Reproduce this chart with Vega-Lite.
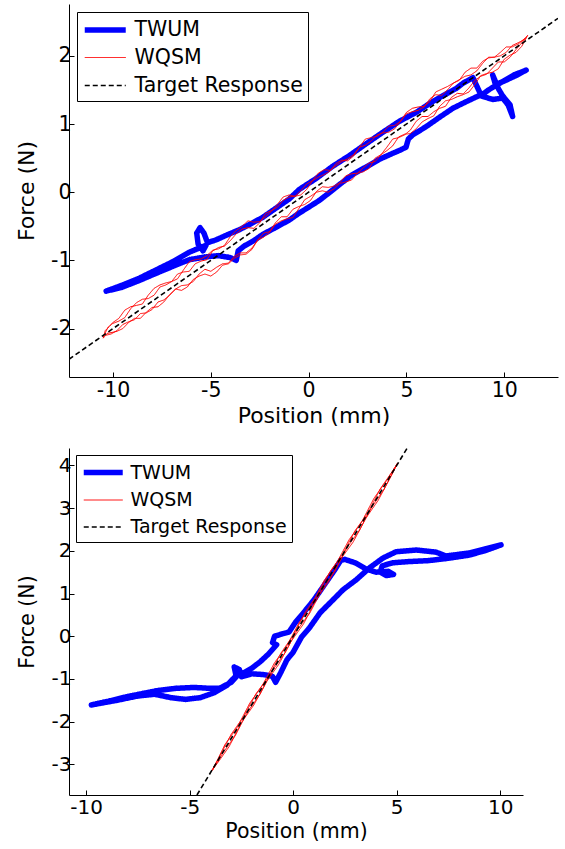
{
"$schema": "https://vega.github.io/schema/vega-lite/v6.json",
"padding": {"left": 15, "top": 4, "right": 4, "bottom": 4},
"background": "white",
"config": {
  "view": {"stroke": null},
  "font": "DejaVu Sans",
  "axis": {"domainColor": "#000", "tickColor": "#000", "tickSize": -5, "grid": false, "labelFont": "DejaVu Sans", "titleFont": "DejaVu Sans", "titleFontWeight": "normal", "labelColor": "#000", "titleColor": "#000", "labelExpr": "'' + datum.value", "labelFlush": false, "labelOverlap": false}
},
"datasets": {
  "top": [
    {"s":"TWUM","x":-10.35,"y":-1.45},{"s":"TWUM","x":-9.6,"y":-1.4},{"s":"TWUM","x":-8.7,"y":-1.3},{"s":"TWUM","x":-7.8,"y":-1.19},{"s":"TWUM","x":-6.8,"y":-1.07},{"s":"TWUM","x":-6.1,"y":-0.99},{"s":"TWUM","x":-5.3,"y":-0.95},{"s":"TWUM","x":-4.6,"y":-0.93},{"s":"TWUM","x":-4.0,"y":-0.96},{"s":"TWUM","x":-3.7,"y":-1.0},{"s":"TWUM","x":-3.6,"y":-0.86},{"s":"TWUM","x":-3.3,"y":-0.79},{"s":"TWUM","x":-2.8,"y":-0.71},{"s":"TWUM","x":-2.35,"y":-0.62},{"s":"TWUM","x":-1.7,"y":-0.52},{"s":"TWUM","x":-1.0,"y":-0.41},{"s":"TWUM","x":-0.5,"y":-0.31},{"s":"TWUM","x":0.0,"y":-0.22},{"s":"TWUM","x":0.55,"y":-0.12},{"s":"TWUM","x":1.0,"y":-0.02},{"s":"TWUM","x":1.57,"y":0.11},{"s":"TWUM","x":2.2,"y":0.25},{"s":"TWUM","x":2.94,"y":0.37},{"s":"TWUM","x":3.6,"y":0.48},{"s":"TWUM","x":4.3,"y":0.57},{"s":"TWUM","x":4.7,"y":0.62},{"s":"TWUM","x":4.98,"y":0.66},{"s":"TWUM","x":5.1,"y":0.78},{"s":"TWUM","x":5.32,"y":0.84},{"s":"TWUM","x":6.0,"y":0.96},{"s":"TWUM","x":6.7,"y":1.1},{"s":"TWUM","x":7.37,"y":1.23},{"s":"TWUM","x":8.0,"y":1.32},{"s":"TWUM","x":8.74,"y":1.42},{"s":"TWUM","x":9.41,"y":1.36},{"s":"TWUM","x":9.92,"y":1.38},{"s":"TWUM","x":10.2,"y":1.28},{"s":"TWUM","x":10.43,"y":1.11},{"s":"TWUM","x":10.3,"y":1.28},{"s":"TWUM","x":9.9,"y":1.42},{"s":"TWUM","x":9.7,"y":1.52},{"s":"TWUM","x":9.41,"y":1.72},{"s":"TWUM","x":9.55,"y":1.58},{"s":"TWUM","x":10.0,"y":1.63},{"s":"TWUM","x":10.6,"y":1.71},{"s":"TWUM","x":11.12,"y":1.79},{"s":"TWUM","x":10.5,"y":1.72},{"s":"TWUM","x":9.9,"y":1.62},{"s":"TWUM","x":9.2,"y":1.5},{"s":"TWUM","x":8.82,"y":1.42},{"s":"TWUM","x":8.4,"y":1.68},{"s":"TWUM","x":7.9,"y":1.6},{"s":"TWUM","x":7.54,"y":1.52},{"s":"TWUM","x":6.9,"y":1.42},{"s":"TWUM","x":6.34,"y":1.33},{"s":"TWUM","x":5.5,"y":1.17},{"s":"TWUM","x":4.64,"y":1.04},{"s":"TWUM","x":3.8,"y":0.88},{"s":"TWUM","x":2.94,"y":0.71},{"s":"TWUM","x":2.1,"y":0.54},{"s":"TWUM","x":1.23,"y":0.38},{"s":"TWUM","x":0.38,"y":0.2},{"s":"TWUM","x":-0.48,"y":0.04},{"s":"TWUM","x":-0.99,"y":-0.1},{"s":"TWUM","x":-1.7,"y":-0.24},{"s":"TWUM","x":-2.35,"y":-0.37},{"s":"TWUM","x":-3.0,"y":-0.47},{"s":"TWUM","x":-3.54,"y":-0.55},{"s":"TWUM","x":-4.2,"y":-0.63},{"s":"TWUM","x":-4.74,"y":-0.7},{"s":"TWUM","x":-5.17,"y":-0.74},{"s":"TWUM","x":-5.35,"y":-0.6},{"s":"TWUM","x":-5.55,"y":-0.52},{"s":"TWUM","x":-5.72,"y":-0.6},{"s":"TWUM","x":-5.65,"y":-0.76},{"s":"TWUM","x":-5.4,"y":-0.86},{"s":"TWUM","x":-5.25,"y":-0.78},{"s":"TWUM","x":-5.6,"y":-0.82},{"s":"TWUM","x":-6.1,"y":-0.88},{"s":"TWUM","x":-6.95,"y":-1.02},{"s":"TWUM","x":-7.8,"y":-1.14},{"s":"TWUM","x":-8.65,"y":-1.26},{"s":"TWUM","x":-9.5,"y":-1.36},{"s":"TWUM","x":-10.35,"y":-1.45},

    {"s":"WQSM","x":-10.5,"y":-2.12},{"s":"WQSM","x":-10.25,"y":-1.98},{"s":"WQSM","x":-10.0,"y":-1.91},{"s":"WQSM","x":-9.7,"y":-1.85},{"s":"WQSM","x":-9.4,"y":-1.73},{"s":"WQSM","x":-9.1,"y":-1.68},{"s":"WQSM","x":-8.8,"y":-1.66},{"s":"WQSM","x":-8.5,"y":-1.64},{"s":"WQSM","x":-8.2,"y":-1.51},{"s":"WQSM","x":-7.9,"y":-1.41},{"s":"WQSM","x":-7.6,"y":-1.36},{"s":"WQSM","x":-7.3,"y":-1.33},{"s":"WQSM","x":-7.0,"y":-1.31},{"s":"WQSM","x":-6.7,"y":-1.27},{"s":"WQSM","x":-6.4,"y":-1.14},{"s":"WQSM","x":-6.1,"y":-1.02},{"s":"WQSM","x":-5.8,"y":-0.99},{"s":"WQSM","x":-5.5,"y":-0.98},{"s":"WQSM","x":-5.2,"y":-0.93},{"s":"WQSM","x":-4.9,"y":-0.85},{"s":"WQSM","x":-4.6,"y":-0.83},{"s":"WQSM","x":-4.3,"y":-0.78},{"s":"WQSM","x":-4.0,"y":-0.65},{"s":"WQSM","x":-3.7,"y":-0.56},{"s":"WQSM","x":-3.4,"y":-0.5},{"s":"WQSM","x":-3.1,"y":-0.42},{"s":"WQSM","x":-2.8,"y":-0.44},{"s":"WQSM","x":-2.5,"y":-0.43},{"s":"WQSM","x":-2.2,"y":-0.36},{"s":"WQSM","x":-1.9,"y":-0.28},{"s":"WQSM","x":-1.6,"y":-0.18},{"s":"WQSM","x":-1.3,"y":-0.07},{"s":"WQSM","x":-1.0,"y":-0.04},{"s":"WQSM","x":-0.7,"y":-0.06},{"s":"WQSM","x":-0.4,"y":0.02},{"s":"WQSM","x":-0.1,"y":0.12},{"s":"WQSM","x":0.2,"y":0.17},{"s":"WQSM","x":0.5,"y":0.28},{"s":"WQSM","x":0.8,"y":0.33},{"s":"WQSM","x":1.1,"y":0.32},{"s":"WQSM","x":1.4,"y":0.39},{"s":"WQSM","x":1.7,"y":0.45},{"s":"WQSM","x":2.0,"y":0.49},{"s":"WQSM","x":2.3,"y":0.55},{"s":"WQSM","x":2.6,"y":0.66},{"s":"WQSM","x":2.9,"y":0.78},{"s":"WQSM","x":3.2,"y":0.8},{"s":"WQSM","x":3.5,"y":0.82},{"s":"WQSM","x":3.8,"y":0.88},{"s":"WQSM","x":4.1,"y":0.97},{"s":"WQSM","x":4.4,"y":0.98},{"s":"WQSM","x":4.7,"y":1.04},{"s":"WQSM","x":5.0,"y":1.17},{"s":"WQSM","x":5.3,"y":1.23},{"s":"WQSM","x":5.6,"y":1.25},{"s":"WQSM","x":5.9,"y":1.26},{"s":"WQSM","x":6.2,"y":1.33},{"s":"WQSM","x":6.5,"y":1.47},{"s":"WQSM","x":6.8,"y":1.51},{"s":"WQSM","x":7.1,"y":1.55},{"s":"WQSM","x":7.4,"y":1.6},{"s":"WQSM","x":7.7,"y":1.64},{"s":"WQSM","x":8.0,"y":1.76},{"s":"WQSM","x":8.3,"y":1.82},{"s":"WQSM","x":8.6,"y":1.82},{"s":"WQSM","x":8.9,"y":1.92},{"s":"WQSM","x":9.2,"y":1.97},{"s":"WQSM","x":9.5,"y":1.98},{"s":"WQSM","x":9.8,"y":2.05},{"s":"WQSM","x":10.1,"y":2.13},{"s":"WQSM","x":10.4,"y":2.13},{"s":"WQSM","x":10.7,"y":2.17},{"s":"WQSM","x":11.0,"y":2.24},{"s":"WQSM","x":11.2,"y":2.3},
    {"s":"WQSM","x":10.9,"y":2.14},{"s":"WQSM","x":10.6,"y":2.05},{"s":"WQSM","x":10.3,"y":2.01},{"s":"WQSM","x":10.0,"y":1.95},{"s":"WQSM","x":9.7,"y":1.81},{"s":"WQSM","x":9.4,"y":1.76},{"s":"WQSM","x":9.1,"y":1.74},{"s":"WQSM","x":8.8,"y":1.71},{"s":"WQSM","x":8.5,"y":1.58},{"s":"WQSM","x":8.2,"y":1.47},{"s":"WQSM","x":7.9,"y":1.43},{"s":"WQSM","x":7.6,"y":1.4},{"s":"WQSM","x":7.3,"y":1.36},{"s":"WQSM","x":7.0,"y":1.34},{"s":"WQSM","x":6.7,"y":1.26},{"s":"WQSM","x":6.4,"y":1.12},{"s":"WQSM","x":6.1,"y":1.08},{"s":"WQSM","x":5.8,"y":1.03},{"s":"WQSM","x":5.5,"y":0.93},{"s":"WQSM","x":5.2,"y":0.86},{"s":"WQSM","x":4.9,"y":0.85},{"s":"WQSM","x":4.6,"y":0.81},{"s":"WQSM","x":4.3,"y":0.68},{"s":"WQSM","x":4.0,"y":0.61},{"s":"WQSM","x":3.7,"y":0.55},{"s":"WQSM","x":3.4,"y":0.5},{"s":"WQSM","x":3.1,"y":0.35},{"s":"WQSM","x":2.8,"y":0.3},{"s":"WQSM","x":2.5,"y":0.28},{"s":"WQSM","x":2.2,"y":0.18},{"s":"WQSM","x":1.9,"y":0.15},{"s":"WQSM","x":1.6,"y":0.13},{"s":"WQSM","x":1.3,"y":0.05},{"s":"WQSM","x":1.0,"y":0.0},{"s":"WQSM","x":0.7,"y":0.02},{"s":"WQSM","x":0.4,"y":0.0},{"s":"WQSM","x":0.1,"y":-0.06},{"s":"WQSM","x":-0.2,"y":-0.11},{"s":"WQSM","x":-0.5,"y":-0.24},{"s":"WQSM","x":-0.8,"y":-0.37},{"s":"WQSM","x":-1.1,"y":-0.39},{"s":"WQSM","x":-1.4,"y":-0.42},{"s":"WQSM","x":-1.7,"y":-0.47},{"s":"WQSM","x":-2.0,"y":-0.59},{"s":"WQSM","x":-2.3,"y":-0.66},{"s":"WQSM","x":-2.6,"y":-0.7},{"s":"WQSM","x":-2.9,"y":-0.84},{"s":"WQSM","x":-3.2,"y":-0.91},{"s":"WQSM","x":-3.5,"y":-0.92},{"s":"WQSM","x":-3.8,"y":-0.97},{"s":"WQSM","x":-4.1,"y":-1.05},{"s":"WQSM","x":-4.4,"y":-1.07},{"s":"WQSM","x":-4.7,"y":-1.17},{"s":"WQSM","x":-5.0,"y":-1.23},{"s":"WQSM","x":-5.3,"y":-1.2},{"s":"WQSM","x":-5.6,"y":-1.23},{"s":"WQSM","x":-5.9,"y":-1.28},{"s":"WQSM","x":-6.2,"y":-1.39},{"s":"WQSM","x":-6.5,"y":-1.44},{"s":"WQSM","x":-6.8,"y":-1.42},{"s":"WQSM","x":-7.1,"y":-1.5},{"s":"WQSM","x":-7.4,"y":-1.61},{"s":"WQSM","x":-7.7,"y":-1.68},{"s":"WQSM","x":-8.0,"y":-1.69},{"s":"WQSM","x":-8.3,"y":-1.76},{"s":"WQSM","x":-8.6,"y":-1.85},{"s":"WQSM","x":-8.9,"y":-1.85},{"s":"WQSM","x":-9.2,"y":-1.91},{"s":"WQSM","x":-9.5,"y":-2.0},{"s":"WQSM","x":-9.8,"y":-2.04},{"s":"WQSM","x":-10.1,"y":-2.06},{"s":"WQSM","x":-10.3,"y":-2.07},{"s":"WQSM","x":-10.5,"y":-2.14},
    {"s":"WQSM","x":-10.4,"y":-2.03},{"s":"WQSM","x":-10.05,"y":-1.93},{"s":"WQSM","x":-9.7,"y":-1.89},{"s":"WQSM","x":-9.4,"y":-1.84},{"s":"WQSM","x":-9.1,"y":-1.71},{"s":"WQSM","x":-8.8,"y":-1.62},{"s":"WQSM","x":-8.5,"y":-1.57},{"s":"WQSM","x":-8.2,"y":-1.56},{"s":"WQSM","x":-7.9,"y":-1.51},{"s":"WQSM","x":-7.6,"y":-1.39},{"s":"WQSM","x":-7.3,"y":-1.36},{"s":"WQSM","x":-7.0,"y":-1.31},{"s":"WQSM","x":-6.7,"y":-1.2},{"s":"WQSM","x":-6.4,"y":-1.17},{"s":"WQSM","x":-6.1,"y":-1.16},{"s":"WQSM","x":-5.8,"y":-1.05},{"s":"WQSM","x":-5.5,"y":-1.01},{"s":"WQSM","x":-5.2,"y":-0.99},{"s":"WQSM","x":-4.9,"y":-0.86},{"s":"WQSM","x":-4.6,"y":-0.81},{"s":"WQSM","x":-4.3,"y":-0.79},{"s":"WQSM","x":-4.0,"y":-0.71},{"s":"WQSM","x":-3.7,"y":-0.61},{"s":"WQSM","x":-3.4,"y":-0.54},{"s":"WQSM","x":-3.1,"y":-0.52},{"s":"WQSM","x":-2.8,"y":-0.53},{"s":"WQSM","x":-2.5,"y":-0.45},{"s":"WQSM","x":-2.2,"y":-0.31},{"s":"WQSM","x":-1.9,"y":-0.27},{"s":"WQSM","x":-1.6,"y":-0.22},{"s":"WQSM","x":-1.3,"y":-0.12},{"s":"WQSM","x":-1.0,"y":-0.07},{"s":"WQSM","x":-0.7,"y":-0.06},{"s":"WQSM","x":-0.4,"y":-0.04},{"s":"WQSM","x":-0.1,"y":0.04},{"s":"WQSM","x":0.2,"y":0.17},{"s":"WQSM","x":0.5,"y":0.22},{"s":"WQSM","x":0.8,"y":0.26},{"s":"WQSM","x":1.1,"y":0.31},{"s":"WQSM","x":1.4,"y":0.42},{"s":"WQSM","x":1.7,"y":0.47},{"s":"WQSM","x":2.0,"y":0.46},{"s":"WQSM","x":2.3,"y":0.53},{"s":"WQSM","x":2.6,"y":0.66},{"s":"WQSM","x":2.9,"y":0.69},{"s":"WQSM","x":3.2,"y":0.75},{"s":"WQSM","x":3.5,"y":0.84},{"s":"WQSM","x":3.8,"y":0.87},{"s":"WQSM","x":4.1,"y":0.88},{"s":"WQSM","x":4.4,"y":0.93},{"s":"WQSM","x":4.7,"y":1.04},{"s":"WQSM","x":5.0,"y":1.15},{"s":"WQSM","x":5.3,"y":1.18},{"s":"WQSM","x":5.6,"y":1.2},{"s":"WQSM","x":5.9,"y":1.25},{"s":"WQSM","x":6.2,"y":1.37},{"s":"WQSM","x":6.5,"y":1.43},{"s":"WQSM","x":6.8,"y":1.42},{"s":"WQSM","x":7.1,"y":1.5},{"s":"WQSM","x":7.4,"y":1.6},{"s":"WQSM","x":7.7,"y":1.65},{"s":"WQSM","x":8.0,"y":1.7},{"s":"WQSM","x":8.3,"y":1.72},{"s":"WQSM","x":8.6,"y":1.78},{"s":"WQSM","x":8.9,"y":1.89},{"s":"WQSM","x":9.2,"y":1.98},{"s":"WQSM","x":9.5,"y":1.98},{"s":"WQSM","x":9.8,"y":2.0},{"s":"WQSM","x":10.1,"y":2.05},{"s":"WQSM","x":10.4,"y":2.15},{"s":"WQSM","x":10.7,"y":2.19},{"s":"WQSM","x":10.9,"y":2.22},{"s":"WQSM","x":11.1,"y":2.26},
    {"s":"WQSM","x":10.6,"y":2.09},{"s":"WQSM","x":10.3,"y":1.98},{"s":"WQSM","x":10.0,"y":1.91},{"s":"WQSM","x":9.7,"y":1.91},{"s":"WQSM","x":9.4,"y":1.82},{"s":"WQSM","x":9.1,"y":1.73},{"s":"WQSM","x":8.8,"y":1.7},{"s":"WQSM","x":8.5,"y":1.64},{"s":"WQSM","x":8.2,"y":1.53},{"s":"WQSM","x":7.9,"y":1.44},{"s":"WQSM","x":7.6,"y":1.45},{"s":"WQSM","x":7.3,"y":1.39},{"s":"WQSM","x":7.0,"y":1.26},{"s":"WQSM","x":6.7,"y":1.23},{"s":"WQSM","x":6.4,"y":1.18},{"s":"WQSM","x":6.1,"y":1.11},{"s":"WQSM","x":5.8,"y":1.11},{"s":"WQSM","x":5.5,"y":1.04},{"s":"WQSM","x":5.2,"y":0.91},{"s":"WQSM","x":4.9,"y":0.84},{"s":"WQSM","x":4.6,"y":0.8},{"s":"WQSM","x":4.3,"y":0.78},{"s":"WQSM","x":4.0,"y":0.66},{"s":"WQSM","x":3.7,"y":0.55},{"s":"WQSM","x":3.4,"y":0.45},{"s":"WQSM","x":3.1,"y":0.43},{"s":"WQSM","x":2.8,"y":0.36},{"s":"WQSM","x":2.5,"y":0.28},{"s":"WQSM","x":2.2,"y":0.27},{"s":"WQSM","x":1.9,"y":0.24},{"s":"WQSM","x":1.6,"y":0.14},{"s":"WQSM","x":1.3,"y":0.09},{"s":"WQSM","x":1.0,"y":0.07},{"s":"WQSM","x":0.7,"y":0.08},{"s":"WQSM","x":0.4,"y":0.01},{"s":"WQSM","x":0.1,"y":-0.12},{"s":"WQSM","x":-0.2,"y":-0.18},{"s":"WQSM","x":-0.5,"y":-0.21},{"s":"WQSM","x":-0.8,"y":-0.25},{"s":"WQSM","x":-1.1,"y":-0.36},{"s":"WQSM","x":-1.4,"y":-0.36},{"s":"WQSM","x":-1.7,"y":-0.45},{"s":"WQSM","x":-2.0,"y":-0.58},{"s":"WQSM","x":-2.3,"y":-0.6},{"s":"WQSM","x":-2.6,"y":-0.7},{"s":"WQSM","x":-2.9,"y":-0.82},{"s":"WQSM","x":-3.2,"y":-0.89},{"s":"WQSM","x":-3.5,"y":-0.89},{"s":"WQSM","x":-3.8,"y":-0.94},{"s":"WQSM","x":-4.1,"y":-1.04},{"s":"WQSM","x":-4.4,"y":-1.05},{"s":"WQSM","x":-4.7,"y":-1.1},{"s":"WQSM","x":-5.0,"y":-1.16},{"s":"WQSM","x":-5.3,"y":-1.13},{"s":"WQSM","x":-5.6,"y":-1.2},{"s":"WQSM","x":-5.9,"y":-1.31},{"s":"WQSM","x":-6.2,"y":-1.36},{"s":"WQSM","x":-6.5,"y":-1.37},{"s":"WQSM","x":-6.8,"y":-1.42},{"s":"WQSM","x":-7.1,"y":-1.51},{"s":"WQSM","x":-7.4,"y":-1.58},{"s":"WQSM","x":-7.7,"y":-1.61},{"s":"WQSM","x":-8.0,"y":-1.72},{"s":"WQSM","x":-8.3,"y":-1.77},{"s":"WQSM","x":-8.6,"y":-1.78},{"s":"WQSM","x":-8.9,"y":-1.87},{"s":"WQSM","x":-9.2,"y":-1.9},{"s":"WQSM","x":-9.5,"y":-1.94},{"s":"WQSM","x":-9.8,"y":-2.03},{"s":"WQSM","x":-10.1,"y":-2.08},{"s":"WQSM","x":-10.4,"y":-2.1},

    {"s":"Target Response","x":-12.25,"y":-2.45},{"s":"Target Response","x":12.75,"y":2.55}
  ],
  "bot": [
    {"s":"TWUM","x":-9.75,"y":-1.61},{"s":"TWUM","x":-8.9,"y":-1.52},{"s":"TWUM","x":-8.06,"y":-1.42},{"s":"TWUM","x":-7.25,"y":-1.34},{"s":"TWUM","x":-6.5,"y":-1.27},{"s":"TWUM","x":-5.65,"y":-1.22},{"s":"TWUM","x":-4.8,"y":-1.2},{"s":"TWUM","x":-4.04,"y":-1.22},{"s":"TWUM","x":-3.56,"y":-1.22},{"s":"TWUM","x":-3.0,"y":-1.08},{"s":"TWUM","x":-2.75,"y":-0.95},{"s":"TWUM","x":-2.85,"y":-0.72},{"s":"TWUM","x":-2.6,"y":-0.78},{"s":"TWUM","x":-2.5,"y":-0.95},{"s":"TWUM","x":-2.0,"y":-0.88},{"s":"TWUM","x":-1.4,"y":-0.9},{"s":"TWUM","x":-1.0,"y":-0.94},{"s":"TWUM","x":-0.85,"y":-1.08},{"s":"TWUM","x":-0.6,"y":-0.85},{"s":"TWUM","x":-0.3,"y":-0.55},{"s":"TWUM","x":-0.01,"y":-0.38},{"s":"TWUM","x":0.4,"y":-0.02},{"s":"TWUM","x":0.79,"y":0.2},{"s":"TWUM","x":1.3,"y":0.55},{"s":"TWUM","x":1.92,"y":0.85},{"s":"TWUM","x":2.41,"y":1.09},{"s":"TWUM","x":3.04,"y":1.32},{"s":"TWUM","x":3.68,"y":1.6},{"s":"TWUM","x":4.33,"y":1.83},{"s":"TWUM","x":4.97,"y":1.98},{"s":"TWUM","x":5.94,"y":2.02},{"s":"TWUM","x":6.9,"y":1.97},{"s":"TWUM","x":7.38,"y":1.88},{"s":"TWUM","x":8.51,"y":1.95},{"s":"TWUM","x":9.3,"y":2.05},{"s":"TWUM","x":10.04,"y":2.14},{"s":"TWUM","x":9.3,"y":2.01},{"s":"TWUM","x":8.5,"y":1.9},{"s":"TWUM","x":7.4,"y":1.82},{"s":"TWUM","x":6.5,"y":1.77},{"s":"TWUM","x":5.6,"y":1.75},{"s":"TWUM","x":4.8,"y":1.72},{"s":"TWUM","x":4.3,"y":1.65},{"s":"TWUM","x":4.2,"y":1.5},{"s":"TWUM","x":4.5,"y":1.42},{"s":"TWUM","x":4.85,"y":1.45},{"s":"TWUM","x":4.6,"y":1.52},{"s":"TWUM","x":4.0,"y":1.5},{"s":"TWUM","x":3.5,"y":1.58},{"s":"TWUM","x":3.0,"y":1.72},{"s":"TWUM","x":2.5,"y":1.8},{"s":"TWUM","x":2.3,"y":1.78},{"s":"TWUM","x":2.0,"y":1.55},{"s":"TWUM","x":1.5,"y":1.2},{"s":"TWUM","x":1.0,"y":0.85},{"s":"TWUM","x":0.5,"y":0.55},{"s":"TWUM","x":0.1,"y":0.32},{"s":"TWUM","x":-0.2,"y":0.1},{"s":"TWUM","x":-0.5,"y":0.06},{"s":"TWUM","x":-0.9,"y":0.0},{"s":"TWUM","x":-1.0,"y":-0.15},{"s":"TWUM","x":-0.8,"y":-0.2},{"s":"TWUM","x":-1.2,"y":-0.42},{"s":"TWUM","x":-1.6,"y":-0.6},{"s":"TWUM","x":-2.0,"y":-0.75},{"s":"TWUM","x":-2.4,"y":-0.86},{"s":"TWUM","x":-2.75,"y":-0.92},{"s":"TWUM","x":-3.2,"y":-1.15},{"s":"TWUM","x":-3.8,"y":-1.32},{"s":"TWUM","x":-4.5,"y":-1.44},{"s":"TWUM","x":-5.2,"y":-1.48},{"s":"TWUM","x":-5.9,"y":-1.44},{"s":"TWUM","x":-6.7,"y":-1.36},{"s":"TWUM","x":-7.5,"y":-1.4},{"s":"TWUM","x":-8.5,"y":-1.5},{"s":"TWUM","x":-9.75,"y":-1.61},

    {"s":"WQSM","x":-3.9,"y":-3.14},{"s":"WQSM","x":-3.3,"y":-2.54},{"s":"WQSM","x":-2.7,"y":-2.13},{"s":"WQSM","x":-2.1,"y":-1.57},{"s":"WQSM","x":-1.5,"y":-1.16},{"s":"WQSM","x":-0.9,"y":-0.62},{"s":"WQSM","x":-0.3,"y":-0.22},{"s":"WQSM","x":0.3,"y":0.33},{"s":"WQSM","x":0.9,"y":0.75},{"s":"WQSM","x":1.5,"y":1.31},{"s":"WQSM","x":2.1,"y":1.72},{"s":"WQSM","x":2.7,"y":2.26},{"s":"WQSM","x":3.3,"y":2.67},{"s":"WQSM","x":3.9,"y":3.23},{"s":"WQSM","x":4.5,"y":3.64},{"s":"WQSM","x":5.05,"y":4.06},
    {"s":"WQSM","x":4.7,"y":3.73},{"s":"WQSM","x":4.1,"y":3.18},{"s":"WQSM","x":3.5,"y":2.76},{"s":"WQSM","x":2.9,"y":2.21},{"s":"WQSM","x":2.3,"y":1.81},{"s":"WQSM","x":1.7,"y":1.27},{"s":"WQSM","x":1.1,"y":0.86},{"s":"WQSM","x":0.5,"y":0.29},{"s":"WQSM","x":-0.1,"y":-0.12},{"s":"WQSM","x":-0.7,"y":-0.66},{"s":"WQSM","x":-1.3,"y":-1.07},{"s":"WQSM","x":-1.9,"y":-1.61},{"s":"WQSM","x":-2.5,"y":-2.02},{"s":"WQSM","x":-3.1,"y":-2.59},{"s":"WQSM","x":-3.7,"y":-3.0},{"s":"WQSM","x":-3.95,"y":-3.16},
    {"s":"WQSM","x":-3.6,"y":-2.86},{"s":"WQSM","x":-3.0,"y":-2.3},{"s":"WQSM","x":-2.4,"y":-1.89},{"s":"WQSM","x":-1.8,"y":-1.35},{"s":"WQSM","x":-1.2,"y":-0.96},{"s":"WQSM","x":-0.6,"y":-0.4},{"s":"WQSM","x":0.0,"y":0.02},{"s":"WQSM","x":0.6,"y":0.58},{"s":"WQSM","x":1.2,"y":0.99},{"s":"WQSM","x":1.8,"y":1.53},{"s":"WQSM","x":2.4,"y":1.93},{"s":"WQSM","x":3.0,"y":2.48},{"s":"WQSM","x":3.6,"y":2.88},{"s":"WQSM","x":4.2,"y":3.45},{"s":"WQSM","x":4.8,"y":3.87},{"s":"WQSM","x":5.05,"y":4.06},
    {"s":"WQSM","x":4.4,"y":3.45},{"s":"WQSM","x":3.8,"y":3.03},{"s":"WQSM","x":3.2,"y":2.48},{"s":"WQSM","x":2.6,"y":2.08},{"s":"WQSM","x":2.0,"y":1.51},{"s":"WQSM","x":1.4,"y":1.1},{"s":"WQSM","x":0.8,"y":0.54},{"s":"WQSM","x":0.2,"y":0.15},{"s":"WQSM","x":-0.4,"y":-0.39},{"s":"WQSM","x":-1.0,"y":-0.8},{"s":"WQSM","x":-1.6,"y":-1.36},{"s":"WQSM","x":-2.2,"y":-1.77},{"s":"WQSM","x":-2.8,"y":-2.33},{"s":"WQSM","x":-3.4,"y":-2.74},{"s":"WQSM","x":-3.9,"y":-3.14},

    {"s":"Target Response","x":-4.65,"y":-3.72},{"s":"Target Response","x":5.51,"y":4.41}
  ]
},
"vconcat": [
  {
    "data": {"name": "top"},
    "width": 489, "height": 373,
    "encoding": {
      "x": {"field": "x", "type": "quantitative", "scale": {"domain": [-12.25, 12.75], "nice": false, "zero": false}, "axis": {"values": [-10, -5, 0, 5, 10], "title": "Position (mm)", "labelFontSize": 20.5, "titleFontSize": 22, "labelPadding": 8, "titlePadding": 5}},
      "y": {"field": "y", "type": "quantitative", "scale": {"domain": [-2.71, 2.76], "nice": false, "zero": false}, "axis": {"values": [-2, -1, 0, 1, 2], "title": "Force (N)", "labelFontSize": 20.5, "titleFontSize": 22, "labelPadding": 3, "titlePadding": 12}},
      "color": {"field": "s", "type": "nominal", "scale": {"domain": ["TWUM", "WQSM", "Target Response"], "range": ["#0000ff", "#ff0000", "#000000"]},
        "legend": {"title": null, "orient": "top-left", "offset": 8, "padding": 5, "strokeColor": "#000", "fillColor": "#fff", "labelFont": "DejaVu Sans", "labelFontSize": 20.5, "labelColor": "#000", "labelLimit": 0, "symbolSize": 420, "symbolType": "M-1,0L3,0", "labelOffset": 26.5, "rowPadding": 5.5, "cornerRadius": 0}},
      "strokeDash": {"field": "s", "type": "nominal", "scale": {"domain": ["TWUM", "WQSM", "Target Response"], "range": [[1, 0], [1, 0], [5, 3]]}, "legend": {"title": null}},
      "strokeWidth": {"field": "s", "type": "nominal", "scale": {"type": "ordinal", "domain": ["TWUM", "WQSM", "Target Response"], "range": [5.5, 1, 1.6]}, "legend": {"title": null}},
      "order": {"value": null}
    },
    "layer": [
      {"transform": [{"filter": "datum.s === 'TWUM'"}], "mark": {"type": "line", "strokeJoin": "round", "strokeCap": "round", "clip": true}},
      {"transform": [{"filter": "datum.s === 'WQSM'"}], "mark": {"type": "line", "clip": true}},
      {"transform": [{"filter": "datum.s === 'Target Response'"}], "mark": {"type": "line", "clip": true}}
    ]
  },
  {
    "data": {"name": "bot"},
    "width": 454, "height": 347,
    "encoding": {
      "x": {"field": "x", "type": "quantitative", "scale": {"domain": [-10.83, 11.1], "nice": false, "zero": false}, "axis": {"values": [-10, -5, 0, 5, 10], "title": "Position (mm)", "labelFontSize": 20, "titleFontSize": 20.5, "labelPadding": 7, "titlePadding": 4}},
      "y": {"field": "y", "type": "quantitative", "scale": {"domain": [-3.72, 4.41], "nice": false, "zero": false}, "axis": {"values": [-3, -2, -1, 0, 1, 2, 3, 4], "title": "Force (N)", "labelFontSize": 20, "titleFontSize": 20.5, "labelPadding": 3, "titlePadding": 14}},
      "color": {"field": "s", "type": "nominal", "scale": {"domain": ["TWUM", "WQSM", "Target Response"], "range": ["#0000ff", "#ff0000", "#000000"]},
        "legend": {"title": null, "orient": "top-left", "offset": 7, "padding": 5, "strokeColor": "#000", "fillColor": "#fff", "labelFont": "DejaVu Sans", "labelFontSize": 19, "labelColor": "#000", "labelLimit": 0, "symbolSize": 380, "symbolType": "M-1,0L3,0", "labelOffset": 24.5, "rowPadding": 5.5, "cornerRadius": 0}},
      "strokeDash": {"field": "s", "type": "nominal", "scale": {"domain": ["TWUM", "WQSM", "Target Response"], "range": [[1, 0], [1, 0], [5, 3]]}, "legend": {"title": null}},
      "strokeWidth": {"field": "s", "type": "nominal", "scale": {"type": "ordinal", "domain": ["TWUM", "WQSM", "Target Response"], "range": [5.5, 1, 1.6]}, "legend": {"title": null}},
      "order": {"value": null}
    },
    "layer": [
      {"transform": [{"filter": "datum.s === 'TWUM'"}], "mark": {"type": "line", "strokeJoin": "round", "strokeCap": "round", "clip": true}},
      {"transform": [{"filter": "datum.s === 'WQSM'"}], "mark": {"type": "line", "clip": true}},
      {"transform": [{"filter": "datum.s === 'Target Response'"}], "mark": {"type": "line", "clip": true}}
    ]
  }
],
"spacing": 21,
"resolve": {
  "scale": {"x": "independent", "y": "independent", "color": "independent", "strokeDash": "independent", "strokeWidth": "independent"},
  "legend": {"color": "independent", "strokeDash": "independent", "strokeWidth": "independent"},
  "axis": {"x": "independent", "y": "independent"}
}
}
